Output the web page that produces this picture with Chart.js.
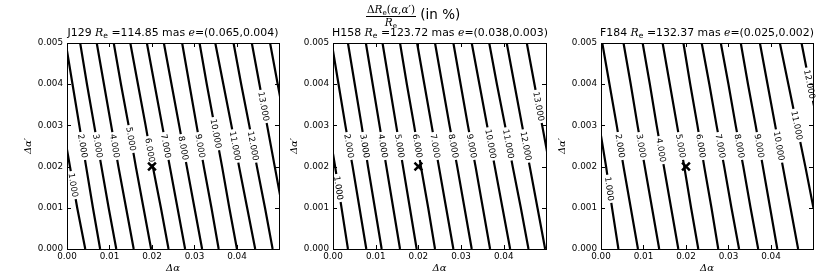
<!DOCTYPE html>
<html>
<head>
<meta charset="utf-8">
<script src="https://cdn.jsdelivr.net/npm/chart.js@4"></script>
<style>
  body { margin: 0; background: #fff; }
  #wrap { position: relative; width: 830px; height: 277px; overflow: hidden; }
  #wrap canvas { position: absolute; left: 0; top: 0; }
  .ptitle { position: absolute; top: 27px; transform: translateX(-50%); white-space: nowrap;
            font: 10.9px/12px "DejaVu Sans"; color: #000; }
  .ptitle i, #sup i { font-family: "DejaVu Serif"; font-style: italic; }
  sub { font-size: 0.7em; vertical-align: -0.3em; line-height: 0; }
  #sup { position: absolute; left: 366px; top: 3px; white-space: nowrap; font: 13.5px "DejaVu Sans"; color: #000; }
  .frac { display: inline-block; vertical-align: middle; text-align: center; font: 10.5px "DejaVu Serif"; }
  .frac .top { display: block; line-height: 13px; border-bottom: 1px solid #000; padding: 0 1px; }
  .frac .bot { display: block; line-height: 10px; }
</style>
</head>
<body>
<div id="wrap">
  <canvas id="c1" width="830" height="277"></canvas>
  <canvas id="c2" width="830" height="277"></canvas>
  <canvas id="c3" width="830" height="277"></canvas>
  <div id="sup"><span class="frac"><span class="top">Δ<i>R</i><sub>e</sub>(<i>α</i>,<i>α</i>′)</span><span class="bot"><i>R</i><sub>e</sub></span></span> (in %)</div>
  <div class="ptitle" style="left:173px">J129 <i>R</i><sub>e</sub> =114.85 mas <i>e</i>=(0.065,0.004)</div>
  <div class="ptitle" style="left:440px">H158 <i>R</i><sub>e</sub> =123.72 mas <i>e</i>=(0.038,0.003)</div>
  <div class="ptitle" style="left:707px">F184 <i>R</i><sub>e</sub> =132.37 mas <i>e</i>=(0.025,0.002)</div>
</div>
<script>
// ─── DATA ──────────────────────────────────
// every contour is given as its Δα value at each of these Δα' levels
const Y_LEVELS = [0.005, 0.004, 0.003, 0.002, 0.001, 0];
const LEVEL_NAMES = ['1.000', '2.000', '3.000', '4.000', '5.000', '6.000', '7.000',
                     '8.000', '9.000', '10.000', '11.000', '12.000', '13.000', '14.000'];
const MARKER = [{ x: 0.02, y: 0.002 }];
const X_TICKS = [0, 0.01, 0.02, 0.03, 0.04];
const Y_TICKS = [0, 0.001, 0.002, 0.003, 0.004, 0.005];

// J129
const j129Contours = [
  [-0.0044, -0.0027, -0.0010, 0.0007, 0.0024, 0.0043],
  [-0.0003, 0.0013, 0.0029, 0.0045, 0.0061, 0.0078],
  [0.0031, 0.0047, 0.0064, 0.0081, 0.0098, 0.0116],
  [0.0070, 0.0087, 0.0104, 0.0121, 0.0139, 0.0157],
  [0.0110, 0.0127, 0.0145, 0.0162, 0.0180, 0.0198],
  [0.0149, 0.0167, 0.0185, 0.0202, 0.0221, 0.0239],
  [0.0188, 0.0206, 0.0224, 0.0242, 0.0260, 0.0278],
  [0.0228, 0.0246, 0.0264, 0.0282, 0.0300, 0.0318],
  [0.0271, 0.0288, 0.0305, 0.0322, 0.0340, 0.0357],
  [0.0312, 0.0329, 0.0347, 0.0365, 0.0382, 0.0400],
  [0.0349, 0.0368, 0.0387, 0.0405, 0.0424, 0.0443],
  [0.0392, 0.0410, 0.0429, 0.0447, 0.0466, 0.0484],
  [0.0435, 0.0453, 0.0471, 0.0489, 0.0507, 0.0525],
  [0.0478, 0.0496, 0.0514]
];
const j129LabelY = [0.00155, 0.0025, 0.0025, 0.0025, 0.00267, 0.0024, 0.0025,
                    0.00245, 0.0025, 0.0028, 0.0025, 0.0025, 0.00346, null];

// H158
const h158Contours = [
  [-0.0041, -0.0026, -0.0011, 0.0005, 0.0020, 0.0035],
  [-0.0003, 0.0013, 0.0029, 0.0046, 0.0062, 0.0078],
  [0.0035, 0.0051, 0.0067, 0.0082, 0.0098, 0.0114],
  [0.0077, 0.0093, 0.0109, 0.0125, 0.0141, 0.0157],
  [0.0116, 0.0132, 0.0148, 0.0164, 0.0180, 0.0196],
  [0.0157, 0.0173, 0.0190, 0.0206, 0.0223, 0.0239],
  [0.0197, 0.0214, 0.0231, 0.0248, 0.0265, 0.0282],
  [0.0239, 0.0256, 0.0273, 0.0291, 0.0308, 0.0325],
  [0.0282, 0.0299, 0.0316, 0.0334, 0.0351, 0.0368],
  [0.0325, 0.0343, 0.0361, 0.0379, 0.0397, 0.0415],
  [0.0366, 0.0384, 0.0403, 0.0421, 0.0440, 0.0458],
  [0.0407, 0.0425, 0.0443, 0.0461, 0.0479, 0.0497],
  [0.0454, 0.0472, 0.0490, 0.0508]
];
const h158LabelY = [0.00148, 0.0025, 0.0025, 0.0025, 0.0025, 0.0025, 0.0025,
                    0.0025, 0.0025, 0.00255, 0.00255, 0.0025, 0.00346];

// F184
const f184Contours = [
  [-0.0034, -0.0019, -0.0004, 0.0012, 0.0026, 0.0041],
  [0.0003, 0.0020, 0.0037, 0.0053, 0.0070, 0.0087],
  [0.0053, 0.0070, 0.0086, 0.0103, 0.0120, 0.0137],
  [0.0098, 0.0115, 0.0131, 0.0148, 0.0165, 0.0182],
  [0.0145, 0.0162, 0.0179, 0.0196, 0.0212, 0.0229],
  [0.0194, 0.0210, 0.0227, 0.0243, 0.0260, 0.0276],
  [0.0237, 0.0255, 0.0272, 0.0290, 0.0307, 0.0325],
  [0.0282, 0.0300, 0.0317, 0.0335, 0.0352, 0.0370],
  [0.0329, 0.0346, 0.0364, 0.0381, 0.0398, 0.0415],
  [0.0374, 0.0392, 0.0410, 0.0428, 0.0446, 0.0464],
  [0.0421, 0.0441, 0.0461, 0.0481, 0.0500, 0.0520],
  [0.0472, 0.0491, 0.0511]
];
const f184LabelY = [0.00146, 0.0025, 0.0025, 0.0024, 0.0025, 0.0025, 0.0025,
                    0.0025, 0.0025, 0.0025, 0.0030, 0.0040];

const X_MAX = 0.0499;
const Y_MAX = 0.005;

// ─── DRAWING HELPERS ──────────────────────────────────

function drawContourLabels(chart) {
  const ctx = chart.ctx, xs = chart.scales.x, ys = chart.scales.y;
  ctx.save();
  ctx.font = '8.5px "DejaVu Sans"';
  ctx.textAlign = 'center';
  ctx.textBaseline = 'middle';
  chart.data.datasets.forEach(ds => {
    if (!ds.levelName || ds.labelY == null) return;
    const pts = ds.data;
    for (let k = 0; k < pts.length - 1; k++) {
      const p = pts[k], q = pts[k + 1];
      if (ds.labelY > p.y || ds.labelY < q.y) continue;
      const t = (p.y - ds.labelY) / (p.y - q.y);
      const px = xs.getPixelForValue(p.x + t * (q.x - p.x));
      const py = ys.getPixelForValue(ds.labelY);
      const ang = Math.atan2(ys.getPixelForValue(q.y) - ys.getPixelForValue(p.y),
                             xs.getPixelForValue(q.x) - xs.getPixelForValue(p.x));
      const w = ctx.measureText(ds.levelName).width;
      ctx.save();
      ctx.translate(px, py);
      ctx.rotate(ang);
      ctx.fillStyle = '#fff';
      ctx.fillRect(-w / 2 - 2, -5, w + 4, 10);
      ctx.fillStyle = '#000';
      ctx.fillText(ds.levelName, 0, 0.5);
      ctx.restore();
      break;
    }
  });
  ctx.restore();
}

const framePlugin = {
  id: 'frame',
  beforeDatasetDraw(chart, args) {
    // the marker is dataset 0 and is drawn last, so labels go just before it
    if (args.index === 0) drawContourLabels(chart);
  },
  afterDraw(chart) {
    const ctx = chart.ctx, a = chart.chartArea, xs = chart.scales.x, ys = chart.scales.y;
    ctx.save();
    ctx.strokeStyle = '#000';
    ctx.lineWidth = 1;
    ctx.beginPath();
    xs.ticks.forEach(t => {
      const x = Math.round(xs.getPixelForValue(t.value)) + 0.5;
      ctx.moveTo(x, a.bottom); ctx.lineTo(x, a.bottom - 4);
      ctx.moveTo(x, a.top); ctx.lineTo(x, a.top + 4);
    });
    ys.ticks.forEach(t => {
      const y = Math.round(ys.getPixelForValue(t.value)) + 0.5;
      ctx.moveTo(a.left, y); ctx.lineTo(a.left + 4, y);
      ctx.moveTo(a.right, y); ctx.lineTo(a.right - 4, y);
    });
    ctx.stroke();
    ctx.strokeRect(Math.round(a.left) + 0.5, Math.round(a.top) + 0.5,
                   Math.round(a.right - a.left), Math.round(a.bottom - a.top));

    ctx.fillStyle = '#000';
    ctx.font = 'italic 10px "DejaVu Serif"';
    ctx.textAlign = 'center';
    ctx.textBaseline = 'middle';
    ctx.fillText('Δα', (a.left + a.right) / 2, a.bottom + 19);
    ctx.translate(a.left - 39, (a.top + a.bottom) / 2);
    ctx.rotate(-Math.PI / 2);
    ctx.fillText('Δα′', 0, 0);
    ctx.restore();
  }
};

function makePanel(canvasId, contours, labelY, plotLeft, plotRight) {
  const datasets = [{
    data: MARKER,
    pointStyle: 'crossRot',
    pointRadius: 5.5,
    borderWidth: 2.5,
    borderColor: '#000',
    backgroundColor: '#000',
    showLine: false
  }];
  contours.forEach((xs, i) => {
    datasets.push({
      data: xs.map((x, k) => ({ x, y: Y_LEVELS[k] })),
      showLine: true,
      borderColor: '#000',
      borderWidth: 2.2,
      pointRadius: 0,
      tension: 0,
      clip: 0,
      levelName: LEVEL_NAMES[i],
      labelY: labelY[i]
    });
  });

  const tickFont = { family: 'DejaVu Sans', size: 8.8 };
  return new Chart(document.getElementById(canvasId), {
    type: 'scatter',
    data: { datasets },
    plugins: [framePlugin],
    options: {
      responsive: false,
      animation: false,
      events: [],
      layout: { padding: { left: plotLeft - 40, right: 830 - plotRight, top: 43, bottom: 8 } },
      plugins: { legend: { display: false }, tooltip: { enabled: false } },
      scales: {
        x: {
          type: 'linear', min: 0, max: X_MAX,
          grid: { display: false, drawTicks: false }, border: { display: false },
          afterBuildTicks: s => { s.ticks = X_TICKS.map(value => ({ value })); },
          afterFit: s => { s.height = 20; },
          ticks: { color: '#000', font: tickFont, padding: 2, maxRotation: 0,
                   autoSkip: false, callback: v => v.toFixed(2) }
        },
        y: {
          type: 'linear', min: 0, max: Y_MAX,
          grid: { display: false, drawTicks: false }, border: { display: false },
          afterBuildTicks: s => { s.ticks = Y_TICKS.map(value => ({ value })); },
          afterFit: s => { s.width = 40; },
          ticks: { color: '#000', font: tickFont, padding: 4,
                   autoSkip: false, callback: v => v.toFixed(3) }
        }
      }
    }
  });
}

makePanel('c1', j129Contours, j129LabelY, 67, 279);
makePanel('c2', h158Contours, h158LabelY, 333, 546);
makePanel('c3', f184Contours, f184LabelY, 601, 813);
</script>
</body>
</html>
